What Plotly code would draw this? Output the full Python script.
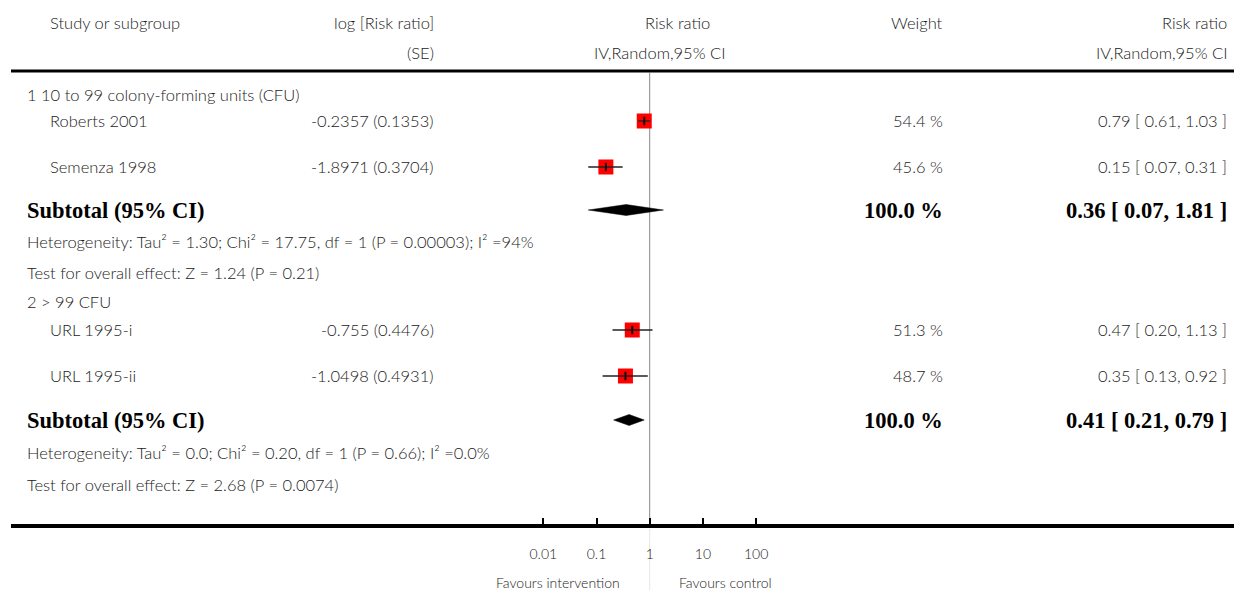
import plotly.graph_objects as go

# ---------------- data ----------------
header_study = "Study or subgroup"
header_logrr = ["log [Risk ratio]", "(SE)"]
header_plot = ["Risk ratio", "IV,Random,95% CI"]
header_weight = "Weight"
header_rr = ["Risk ratio", "IV,Random,95% CI"]

groups = ["1 10 to 99 colony-forming units (CFU)", "2 > 99 CFU"]
studies = ["Roberts 2001", "Semenza 1998", "URL 1995-i", "URL 1995-ii"]
study_group = [0, 0, 1, 1]
log_rr = [-0.2357, -1.8971, -0.755, -1.0498]
se = [0.1353, 0.3704, 0.4476, 0.4931]
rr = [0.79, 0.15, 0.47, 0.35]
rr_lo = [0.61, 0.07, 0.20, 0.13]
rr_hi = [1.03, 0.31, 1.13, 0.92]
weights = [54.4, 45.6, 51.3, 48.7]

sub_rr = [0.36, 0.41]
sub_lo = [0.07, 0.21]
sub_hi = [1.81, 0.79]
sub_weight = [100.0, 100.0]
heterogeneity = [
    "Heterogeneity: Tau² = 1.30; Chi² = 17.75, df = 1 (P = 0.00003); I² =94%",
    "Heterogeneity: Tau² = 0.0; Chi² = 0.20, df = 1 (P = 0.66); I² =0.0%",
]
overall = [
    "Test for overall effect: Z = 1.24 (P = 0.21)",
    "Test for overall effect: Z = 2.68 (P = 0.0074)",
]
tick_vals = [0.01, 0.1, 1, 10, 100]
tick_text = ["0.01", "0.1", "1", "10", "100"]
favours = ["Favours intervention", "Favours control"]

# ---------------- layout constants ----------------
W, H = 1234, 590
FONT = "Lato"
SERIF = "Liberation Serif"
TXT = "#1a1a1a"
BASE = 16.5
BOLD = 22.5
study_y = [121, 167, 330, 376]
group_y = [95, 302]
sub_y = [210, 420]
het_y = [242, 453]
test_y = [273, 485]
x_study, x_group, x_logrr, x_weight, x_rr = 48, 25, 436, 945, 1229
axis_y = 526
px0, px_one, px_dec = 11, 649.7, 53.2

fig = go.Figure()

# squares
fig.add_trace(go.Scatter(
    x=rr, y=study_y, mode="markers",
    marker=dict(symbol="square", size=15, color="#ff0000", line=dict(width=0)),
    hoverinfo="skip", showlegend=False))
# CI lines
for i in range(len(studies)):
    fig.add_trace(go.Scatter(
        x=[rr_lo[i], rr_hi[i]], y=[study_y[i], study_y[i]], mode="lines",
        line=dict(color="#222222", width=1.3), hoverinfo="skip", showlegend=False))
# point ticks
fig.add_trace(go.Scatter(
    x=rr, y=study_y, mode="markers",
    marker=dict(symbol="line-ns", size=6, line=dict(width=2, color="#111111")),
    hoverinfo="skip", showlegend=False))
# diamonds
for g in range(len(sub_rr)):
    yc = sub_y[g]
    fig.add_trace(go.Scatter(
        x=[sub_lo[g], sub_rr[g], sub_hi[g], sub_rr[g], sub_lo[g]],
        y=[yc, yc - 5.5, yc, yc + 5.5, yc],
        mode="lines", fill="toself", fillcolor="black",
        line=dict(color="black", width=0.5), hoverinfo="skip", showlegend=False))

ann = []

def txt(x, y, s, anchor="left", size=BASE, color=TXT, family=FONT, weight=300):
    ann.append(dict(x=x / W, xref="paper", y=y, yref="y", text=s, showarrow=False,
                    xanchor=anchor, yanchor="middle",
                    font=dict(family=family, size=size, color=color, weight=weight)))

# headers
txt(x_study, 23, header_study)
txt(x_logrr, 23, header_logrr[0], "right")
txt(x_logrr, 53, header_logrr[1], "right")
txt(677, 23, header_plot[0], "center")
txt(659, 53, header_plot[1], "center")
txt(x_weight, 23, header_weight, "right")
txt(x_rr, 23, header_rr[0], "right")
txt(x_rr, 53, header_rr[1], "right")

for g in range(len(groups)):
    txt(x_group, group_y[g], groups[g])
for i in range(len(studies)):
    txt(x_study, study_y[i], studies[i])
    txt(x_logrr, study_y[i], f"{log_rr[i]:g} ({se[i]:.4f})", "right")
    txt(x_weight, study_y[i], f"{weights[i]:.1f} %", "right")
    txt(x_rr, study_y[i], f"{rr[i]:.2f} [ {rr_lo[i]:.2f}, {rr_hi[i]:.2f} ]", "right")
for g in range(len(sub_rr)):
    txt(x_group, sub_y[g], "<b>Subtotal (95% CI)</b>", size=BOLD, color="black",
        family=SERIF, weight=700)
    txt(x_weight, sub_y[g], f"<b>{sub_weight[g]:.1f} %</b>", "right", size=BOLD,
        color="black", family=SERIF, weight=700)
    txt(x_rr, sub_y[g], f"<b>{sub_rr[g]:.2f} [ {sub_lo[g]:.2f}, {sub_hi[g]:.2f} ]</b>",
        "right", size=BOLD, color="black", family=SERIF, weight=700)
    txt(x_group, het_y[g], heterogeneity[g])
    txt(x_group, test_y[g], overall[g])

txt(622, 582, favours[0], "right", size=14)
txt(677, 582, favours[1], "left", size=14)

shapes = [
    dict(type="line", xref="paper", yref="y", x0=px0 / W, x1=1, y0=71, y1=71,
         line=dict(color="black", width=3)),
    dict(type="line", xref="x", yref="y", x0=1, x1=1, y0=73, y1=523,
         line=dict(color="#888888", width=1), layer="below"),
    dict(type="line", xref="x", yref="y", x0=1, x1=1, y0=529, y1=590,
         line=dict(color="#e6e6e6", width=1), layer="below"),
]

xr = [(px0 - px_one) / px_dec, (W - px_one) / px_dec]
fig.update_layout(
    width=W, height=H, margin=dict(l=0, r=0, t=0, b=0),
    paper_bgcolor="white", plot_bgcolor="white",
    annotations=ann, shapes=shapes, showlegend=False,
    xaxis=dict(type="log", range=xr, domain=[px0 / W, 1], anchor="free",
               position=1 - axis_y / H, showline=True, linewidth=4, linecolor="black",
               ticks="inside", ticklen=6, tickwidth=2, tickcolor="black",
               tickvals=tick_vals, ticktext=tick_text, showgrid=False, zeroline=False,
               ticklabelstandoff=14,
               tickfont=dict(family=FONT, size=14, color=TXT, weight=300)),
    yaxis=dict(range=[H, 0], visible=False, domain=[0, 1]),
)
fig.write_html("out.html", config={"displayModeBar": False},
               post_script="document.body.style.margin='0';document.body.style.padding='0';document.body.style.overflow='hidden';")
